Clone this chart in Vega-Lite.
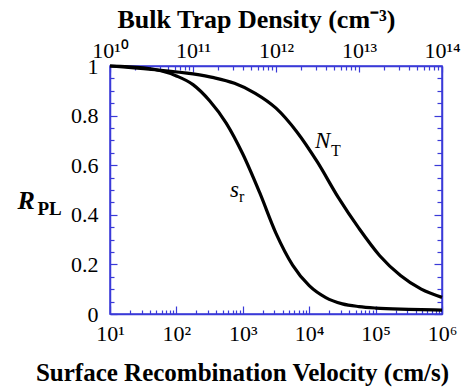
{
  "$schema": "https://vega.github.io/schema/vega-lite/v6.json",
  "width": 332,
  "height": 248,
  "autosize": "none",
  "padding": {"left": 110, "top": 66, "right": 32, "bottom": 73},
  "background": "white",
  "config": {
    "view": {"stroke": "#3a3ad8", "strokeWidth": 1.5},
    "axis": {
      "grid": false,
      "domainColor": "#3a3ad8",
      "domainWidth": 1.5,
      "tickColor": "#3a3ad8",
      "tickWidth": 1.2,
      "labelFont": "Liberation Serif",
      "labelFontSize": 22,
      "labelColor": "black",
      "labelOverlap": false,
      "labelFlush": false,
      "titleFont": "Liberation Serif",
      "titleColor": "black",
      "titleFontWeight": "bold"
    }
  },
  "datasets": {
    "sr": [
      {"s": 10, "R": 1.0},
      {"s": 31.6, "R": 0.993},
      {"s": 100, "R": 0.96},
      {"s": 177.8, "R": 0.925},
      {"s": 316.2, "R": 0.86},
      {"s": 562.3, "R": 0.77},
      {"s": 1000, "R": 0.645},
      {"s": 1778, "R": 0.492},
      {"s": 3162, "R": 0.325},
      {"s": 5623, "R": 0.197},
      {"s": 10000, "R": 0.114},
      {"s": 17783, "R": 0.066},
      {"s": 31623, "R": 0.041},
      {"s": 56234, "R": 0.03},
      {"s": 100000, "R": 0.024},
      {"s": 316228, "R": 0.019},
      {"s": 1000000, "R": 0.016}
    ],
    "nt": [
      {"N": 1e10, "R": 1.0},
      {"N": 3.162e10, "R": 0.986},
      {"N": 1e11, "R": 0.968},
      {"N": 1.778e11, "R": 0.953},
      {"N": 3.162e11, "R": 0.93},
      {"N": 5.623e11, "R": 0.89},
      {"N": 1e12, "R": 0.83},
      {"N": 1.778e12, "R": 0.735},
      {"N": 3.162e12, "R": 0.612},
      {"N": 5.623e12, "R": 0.47},
      {"N": 1e13, "R": 0.345},
      {"N": 1.778e13, "R": 0.235},
      {"N": 3.162e13, "R": 0.155},
      {"N": 5.623e13, "R": 0.1},
      {"N": 1e14, "R": 0.067}
    ],
    "srlab": [{"s": 641, "R": 0.472, "main": "s", "sub": "r"}],
    "ntlab": [{"N": 2.95e12, "R": 0.669, "main": "N", "sub": "T"}]
  },
  "layer": [
    {
      "data": {"name": "sr"},
      "encoding": {
        "x": {
          "field": "s",
          "type": "quantitative",
          "scale": {"type": "log", "domain": [10, 1000000], "nice": false},
          "axis": {
            "orient": "bottom",
            "values": [10,20,30,40,50,60,70,80,90,100,200,300,400,500,600,700,800,900,1000,2000,3000,4000,5000,6000,7000,8000,9000,10000,20000,30000,40000,50000,60000,70000,80000,90000,100000,200000,300000,400000,500000,600000,700000,800000,900000,1000000],
            "labelExpr": "(abs(log(datum.value)/LN10 - round(log(datum.value)/LN10)) < 1e-6) ? '10' + substring('⁰¹²³⁴⁵⁶⁷⁸⁹', round(log(datum.value)/LN10), round(log(datum.value)/LN10) + 1) : ''",
            "tickSize": {"condition": {"test": "abs(log(datum.value)/LN10 - round(log(datum.value)/LN10)) < 1e-6", "value": -8}, "value": -4},
            "labelFont": "Liberation Serif",
            "labelFontSize": 22,
            "labelPadding": 17,
            "title": "Surface Recombination Velocity (cm/s)",
            "titleFont": "Liberation Serif",
            "titleFontSize": 25,
            "titleX": 132,
            "titleY": 66,
            "titleAlign": "center",
            "titleBaseline": "alphabetic"
          }
        },
        "y": {
          "field": "R",
          "type": "quantitative",
          "scale": {"domain": [0, 1], "nice": false},
          "axis": {
            "orient": "left",
            "values": [0,0.05,0.1,0.15,0.2,0.25,0.3,0.35,0.4,0.45,0.5,0.55,0.6,0.65,0.7,0.75,0.8,0.85,0.9,0.95,1],
            "labelExpr": "abs(datum.value*5 - round(datum.value*5)) < 0.001 ? format(datum.value, '.1~f') : ''",
            "tickSize": {"condition": {"test": "abs(datum.value*5 - round(datum.value*5)) < 0.001", "value": -7}, "value": -4},
            "labelFont": "Liberation Serif",
            "labelFontSize": 22,
            "labelPadding": 19,
            "title": "R",
            "titleFont": "Liberation Serif",
            "titleFontSize": 26,
            "titleFontStyle": "italic",
            "titleAngle": 0,
            "titleX": -93,
            "titleY": 142,
            "titleAlign": "left",
            "titleBaseline": "alphabetic"
          }
        }
      },
      "layer": [
        {"mark": {"type": "line", "color": "black", "strokeWidth": 3.2, "interpolate": "monotone"}},
        {
          "data": {"name": "srlab"},
          "mark": {"type": "text", "font": "Liberation Serif", "fontSize": 23, "fontStyle": "italic", "align": "left", "baseline": "alphabetic", "color": "black"},
          "encoding": {"text": {"field": "main"}}
        },
        {
          "data": {"name": "srlab"},
          "mark": {"type": "text", "font": "Liberation Serif", "fontSize": 16, "align": "left", "baseline": "alphabetic", "dx": 9, "dy": 5, "color": "black"},
          "encoding": {"text": {"field": "sub"}}
        }
      ]
    },
    {
      "data": {"name": "nt"},
      "encoding": {
        "x": {
          "field": "N",
          "type": "quantitative",
          "scale": {"type": "log", "domain": [1e10, 1e14], "nice": false},
          "axis": {
            "orient": "top",
            "values": [1e10,2e10,3e10,4e10,5e10,6e10,7e10,8e10,9e10,1e11,2e11,3e11,4e11,5e11,6e11,7e11,8e11,9e11,1e12,2e12,3e12,4e12,5e12,6e12,7e12,8e12,9e12,1e13,2e13,3e13,4e13,5e13,6e13,7e13,8e13,9e13,1e14],
            "labelExpr": "(abs(log(datum.value)/LN10 - round(log(datum.value)/LN10)) < 1e-6) ? '10' + substring('⁰¹²³⁴⁵⁶⁷⁸⁹', floor(round(log(datum.value)/LN10)/10), floor(round(log(datum.value)/LN10)/10) + 1) + substring('⁰¹²³⁴⁵⁶⁷⁸⁹', round(log(datum.value)/LN10) % 10, round(log(datum.value)/LN10) % 10 + 1) : ''",
            "tickSize": {"condition": {"test": "abs(log(datum.value)/LN10 - round(log(datum.value)/LN10)) < 1e-6", "value": -6}, "value": -4},
            "labelFont": "Liberation Serif",
            "labelFontSize": 22,
            "labelPadding": 10,
            "title": "Bulk Trap Density (cm⁻³)",
            "titleFont": "Liberation Serif",
            "titleFontSize": 26,
            "titleX": 146,
            "titleY": -39,
            "titleAlign": "center",
            "titleBaseline": "alphabetic"
          }
        },
        "y": {
          "field": "R",
          "type": "quantitative",
          "scale": {"domain": [0, 1], "nice": false},
          "axis": {
            "orient": "right",
            "values": [0,0.05,0.1,0.15,0.2,0.25,0.3,0.35,0.4,0.45,0.5,0.55,0.6,0.65,0.7,0.75,0.8,0.85,0.9,0.95,1],
            "labels": false,
            "tickSize": {"condition": {"test": "abs(datum.value*5 - round(datum.value*5)) < 0.001", "value": -8}, "value": -5},
            "title": "PL",
            "titleFont": "Liberation Serif",
            "titleFontSize": 19,
            "titleAngle": 0,
            "titleX": -405,
            "titleY": 148,
            "titleAlign": "left",
            "titleBaseline": "alphabetic"
          }
        }
      },
      "layer": [
        {"mark": {"type": "line", "color": "black", "strokeWidth": 3.2, "interpolate": "monotone"}},
        {
          "data": {"name": "ntlab"},
          "mark": {"type": "text", "font": "Liberation Serif", "fontSize": 23, "fontStyle": "italic", "align": "left", "baseline": "alphabetic", "color": "black"},
          "encoding": {"text": {"field": "main"}}
        },
        {
          "data": {"name": "ntlab"},
          "mark": {"type": "text", "font": "Liberation Serif", "fontSize": 16, "align": "left", "baseline": "alphabetic", "dx": 16, "dy": 8, "color": "black"},
          "encoding": {"text": {"field": "sub"}}
        }
      ]
    }
  ],
  "resolve": {
    "scale": {"x": "independent", "y": "independent"},
    "axis": {"x": "independent", "y": "independent"}
  }
}
